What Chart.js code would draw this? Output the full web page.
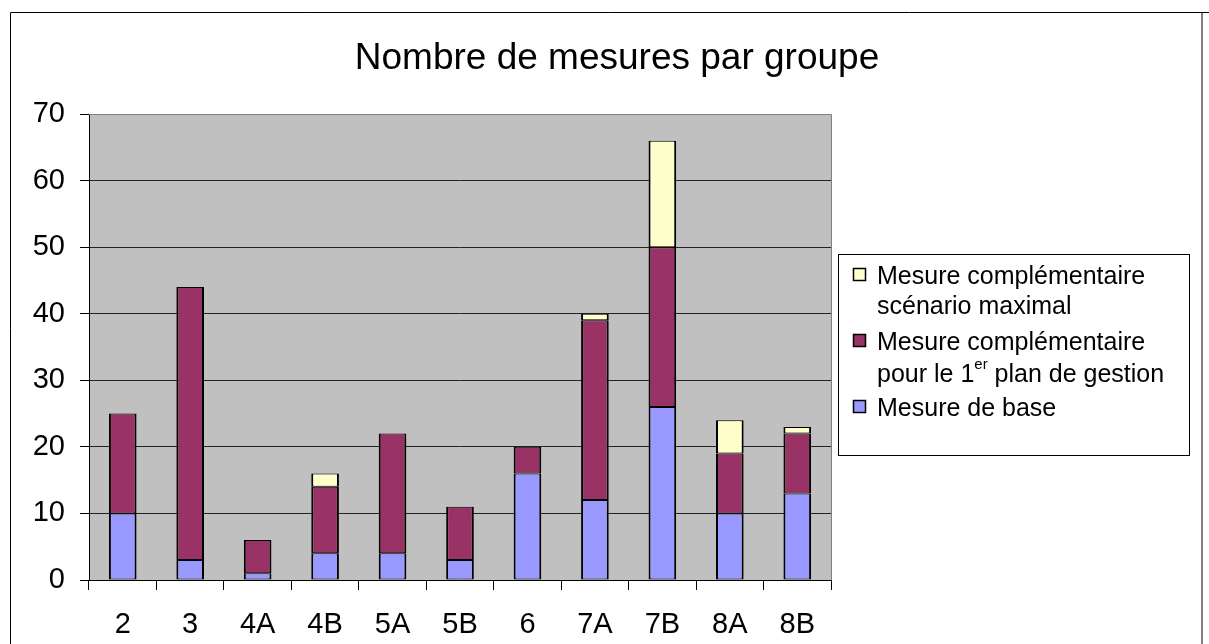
<!DOCTYPE html>
<html>
<head>
<meta charset="utf-8">
<title>Nombre de mesures par groupe</title>
<script src="https://cdn.jsdelivr.net/npm/chart.js@4.4.1/dist/chart.umd.min.js"></script>
<style>
  html, body { margin: 0; padding: 0; background: #fff; }
  #wrap { width: 1209px; height: 644px; }
</style>
</head>
<body>
<div id="wrap"><canvas id="chart" width="1209" height="644"></canvas></div>
<script>
// groups on the x axis
const groups = ['2', '3', '4A', '4B', '5A', '5B', '6', '7A', '7B', '8A', '8B'];

// number of measures per group, stacked bottom to top
const baseMeasures       = [10, 3, 1, 4, 4, 3, 16, 12, 26, 10, 13];
const firstPlanMeasures  = [15, 41, 5, 10, 18, 8, 4, 27, 24, 9, 9];
const maxScenarioMeasures = [0, 0, 0, 2, 0, 0, 0, 1, 16, 5, 1];

const seriesNames = [
    'Mesure de base',
    'Mesure complémentaire pour le 1er plan de gestion',
    'Mesure complémentaire scénario maximal'
];
const seriesColors = ['#9999FF', '#993366', '#FFFFCC'];

const yMax = 70;
const yStep = 10;

const chartTitle = 'Nombre de mesures par groupe';

// legend rows, top to bottom; odd pieces of a line are superscript
const legendRows = [
    { series: 2, lines: [['Mesure complémentaire'], ['scénario maximal']] },
    { series: 1, lines: [['Mesure complémentaire'], ['pour le 1', 'er', ' plan de gestion']] },
    { series: 0, lines: [['Mesure de base']] }
];

const FONT = 'Arial, "Liberation Sans", Helvetica, sans-serif';
Chart.defaults.font.family = FONT;
Chart.defaults.color = '#000';

// background, outer frame, plot fill and plot border
const framePlugin = {
    id: 'frame',
    beforeDraw(chart) {
        const ctx = chart.ctx;
        const a = chart.chartArea;
        ctx.save();
        ctx.fillStyle = '#fff';
        ctx.fillRect(0, 0, chart.width, chart.height);

        ctx.strokeStyle = '#000';
        ctx.lineWidth = 1;
        ctx.beginPath();
        ctx.moveTo(10.5, chart.height);
        ctx.lineTo(10.5, 12.5);
        ctx.lineTo(chart.width, 12.5);
        ctx.stroke();
        ctx.strokeStyle = '#808080';
        ctx.lineWidth = 2;
        ctx.beginPath();
        ctx.moveTo(1202, 13);
        ctx.lineTo(1202, chart.height);
        ctx.stroke();

        ctx.fillStyle = '#C0C0C0';
        ctx.fillRect(a.left, a.top, a.right - a.left, a.bottom - a.top);
        ctx.restore();
    },
    beforeDatasetsDraw(chart) {
        const ctx = chart.ctx;
        const a = chart.chartArea;
        ctx.save();
        ctx.strokeStyle = '#808080';
        ctx.lineWidth = 1;
        ctx.beginPath();
        ctx.moveTo(a.left, Math.round(a.top) + 0.5);
        ctx.lineTo(Math.round(a.right) + 0.5, Math.round(a.top) + 0.5);
        ctx.lineTo(Math.round(a.right) + 0.5, a.bottom);
        ctx.stroke();
        ctx.restore();
    },
    afterDraw(chart) {
        const ctx = chart.ctx;
        ctx.save();
        ctx.fillStyle = '#000';
        ctx.textBaseline = 'alphabetic';
        ctx.textAlign = 'center';
        ctx.font = '37px ' + FONT;
        ctx.fillText(chartTitle, 617, 69);

        // legend box
        ctx.strokeStyle = '#000';
        ctx.lineWidth = 1;
        ctx.strokeRect(838.5, 254.5, 351, 201);

        ctx.textAlign = 'left';
        const textX = 877;
        let baseline = 284;
        legendRows.forEach(row => {
            const ds = chart.data.datasets[row.series];
            ctx.fillStyle = ds.backgroundColor;
            ctx.fillRect(853, baseline - 16, 12, 12);
            ctx.strokeStyle = '#000';
            ctx.lineWidth = 1.5;
            ctx.strokeRect(853.5, baseline - 15.5, 12, 12);

            ctx.fillStyle = '#000';
            row.lines.forEach((pieces, li) => {
                let x = textX;
                const y = baseline + li * 30 + (pieces.length > 1 ? 2 : 0);
                pieces.forEach((piece, pi) => {
                    if (pi % 2 === 1) {
                        ctx.font = '15px ' + FONT;
                        ctx.fillText(piece, x, y - 13);
                    } else {
                        ctx.font = '25px ' + FONT;
                        ctx.fillText(piece, x, y);
                    }
                    x += ctx.measureText(piece).width;
                });
            });
            baseline += row.lines.length * 30 + 6;
        });
        ctx.restore();
    }
};

const series = [baseMeasures, firstPlanMeasures, maxScenarioMeasures];

new Chart(document.getElementById('chart'), {
    type: 'bar',
    data: {
        labels: groups,
        datasets: series.map((values, i) => ({
            label: seriesNames[i],
            data: values.map(v => v || null),
            backgroundColor: seriesColors[i],
            borderColor: '#000',
            borderWidth: { left: 2, right: 2, top: 1, bottom: 1 },
            borderSkipped: false,
            barPercentage: 0.41,
            categoryPercentage: 1
        }))
    },
    options: {
        responsive: false,
        animation: false,
        devicePixelRatio: 1,
        layout: { padding: { top: 114, right: 378, left: 0, bottom: 0 } },
        plugins: {
            legend: { display: false },
            title: { display: false },
            tooltip: { enabled: false }
        },
        scales: {
            x: {
                stacked: true,
                offset: true,
                grid: {
                    offset: true,
                    drawOnChartArea: false,
                    drawTicks: true,
                    tickLength: 10,
                    color: '#000'
                },
                border: { color: '#000', width: 1 },
                ticks: { font: { size: 29 }, color: '#000', padding: 18, maxRotation: 0 },
                afterFit: s => { s.height = 64; }
            },
            y: {
                stacked: true,
                min: 0,
                max: yMax,
                grid: {
                    color: c => (c.tick && c.tick.value === yMax ? '#808080' : '#222'),
                    tickColor: '#000',
                    tickLength: 9
                },
                border: { color: '#000', width: 1 },
                ticks: { stepSize: yStep, font: { size: 29 }, color: '#000', padding: 15 },
                afterFit: s => { s.width = 89; }
            }
        }
    },
    plugins: [framePlugin]
});
</script>
</body>
</html>
